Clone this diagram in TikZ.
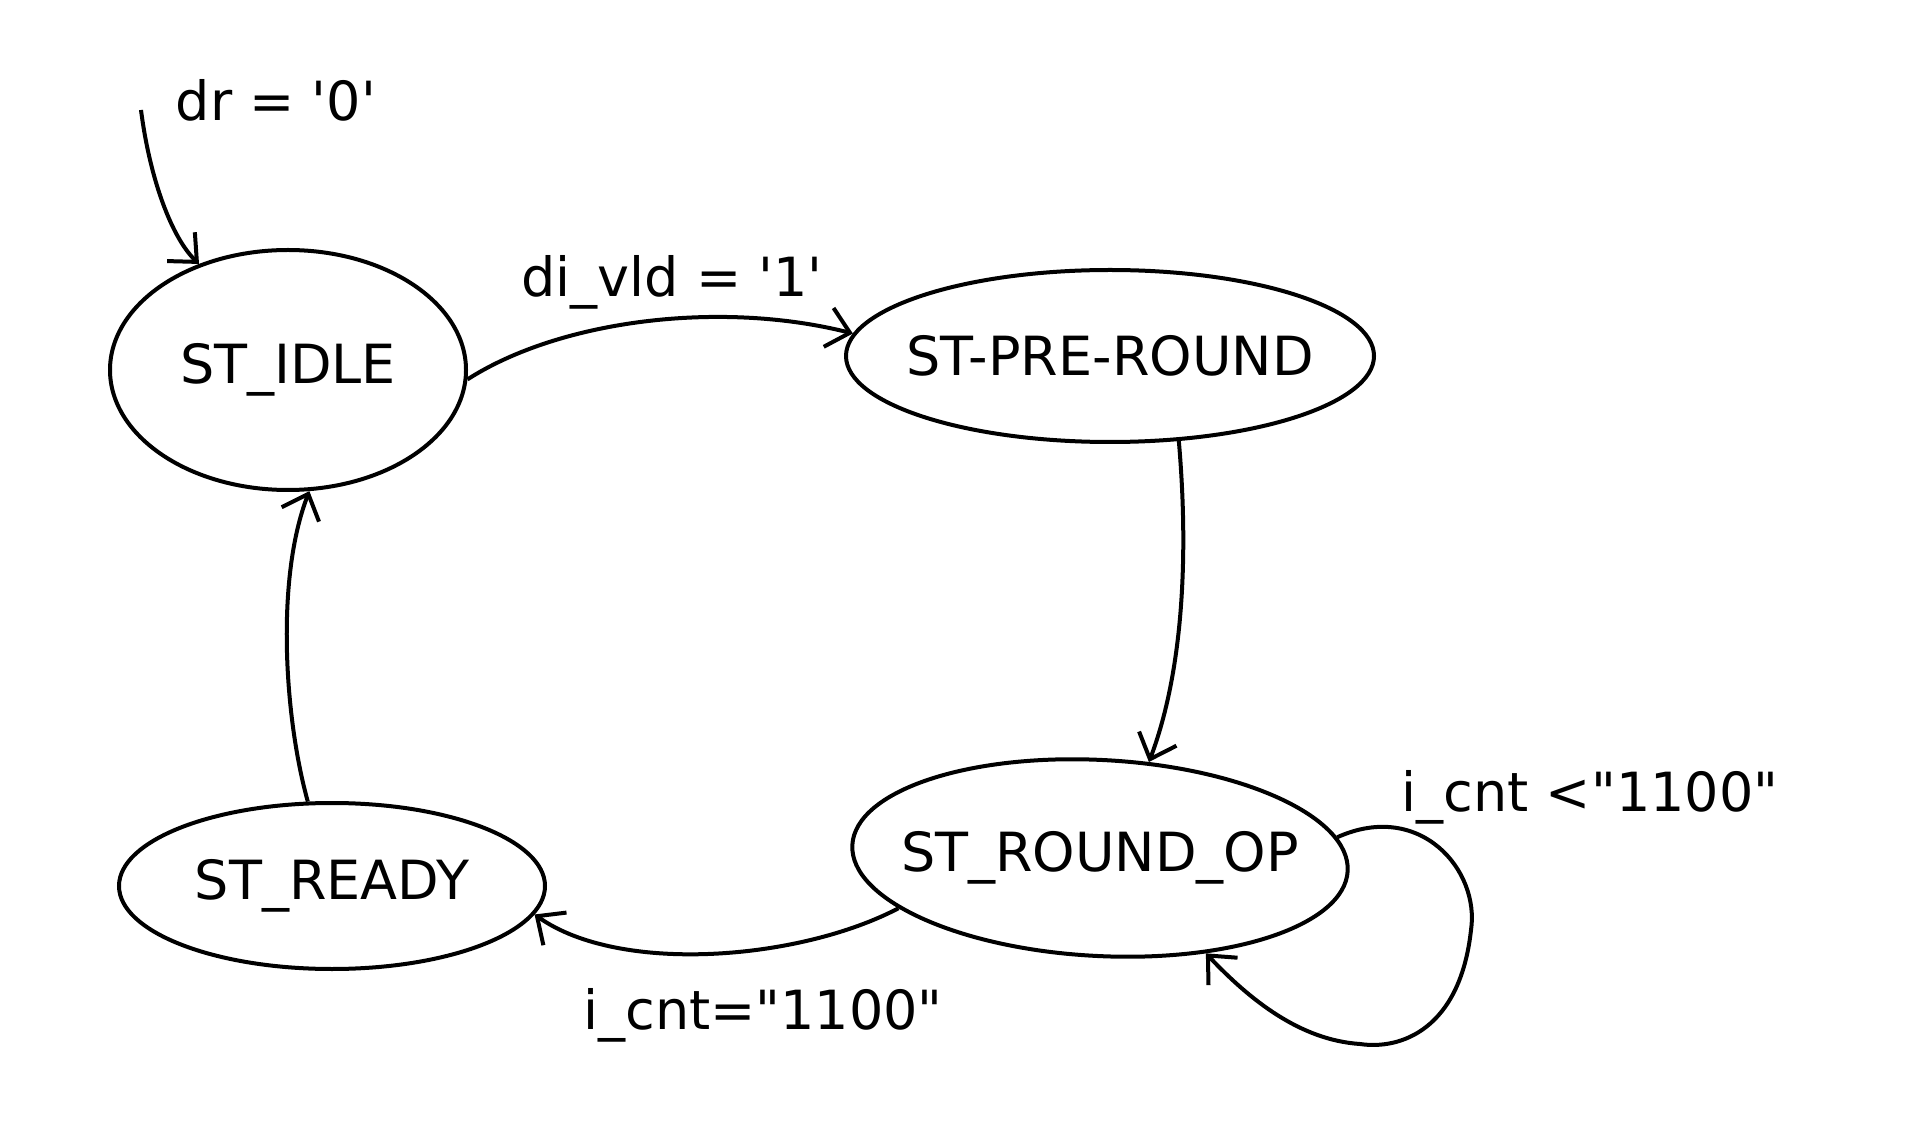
\documentclass[tikz,border=0pt]{standalone}
\usepackage{fontspec}
\setmainfont{DejaVu Sans}
\usepackage{tikz}
\usetikzlibrary{positioning, arrows.meta, shapes.geometric}

\tikzset{
  state/.style={draw, ellipse, line width=2pt, inner sep=0pt,
    label={[font=\fontsize{27}{30}\selectfont]center:#1}},
  trans/.style={line width=2pt, -{Straight Barb[length=11pt, width=20pt, line width=2pt]}},
  cond/.style={font=\fontsize{27}{30}\selectfont}
}
\newcommand{\sq}{\textquotesingle}
\newcommand{\dq}{\textquotedbl}

\begin{document}
\begin{tikzpicture}[x=0.5pt, y=-0.5pt]
\useasboundingbox (0,0) rectangle (1922,1138);

\node[state=ST\_IDLE, minimum width=178pt, minimum height=120pt] (idle) at (288,370) {};
\node[state=ST-PRE-ROUND, minimum width=264pt, minimum height=86pt] (pre) at (1110,356) {};
\node[state=ST\_ROUND\_OP, minimum width=248pt, minimum height=98pt, rotate=-3] (rop) at (1100,858) {};
\node[state=ST\_READY, minimum width=213pt, minimum height=83pt] (ready) at (332,886) {};

\coordinate (init) at (141,110);
\node[cond] (lrst) at (276,100) {dr = \sq0\sq};
\node[cond] (lvld) at (672,282) {di\_vld = \sq1\sq};
\node[cond] (lend) at (763,1015) {i\_cnt=\dq1100\dq};
\node[cond] (lloop) at (1590,797) {i\_cnt <\dq1100\dq};

\draw[trans] (init) .. controls (150,180) and (172,238) .. (idle.130);
\draw[trans] (idle.-3) .. controls (560,320) and (720,300) .. (pre.175);
\draw[trans] (pre.-51) .. controls (1190,570) and (1180,680) .. (rop.66);
\draw[trans] (rop.-163) .. controls (800,960) and (620,975) .. (ready.-8);
\draw[trans] (ready.106) .. controls (285,720) and (275,580) .. (idle.-80);

% self loop on ROUND_OP
\draw[trans] (rop.8) .. controls (1420,800) and (1480,870) .. (1471,930)
  .. controls (1460,1030) and (1400,1050) .. (1360,1044)
  .. controls (1300,1040) and (1250,1000) .. (rop.-39);
\end{tikzpicture}
\end{document}
